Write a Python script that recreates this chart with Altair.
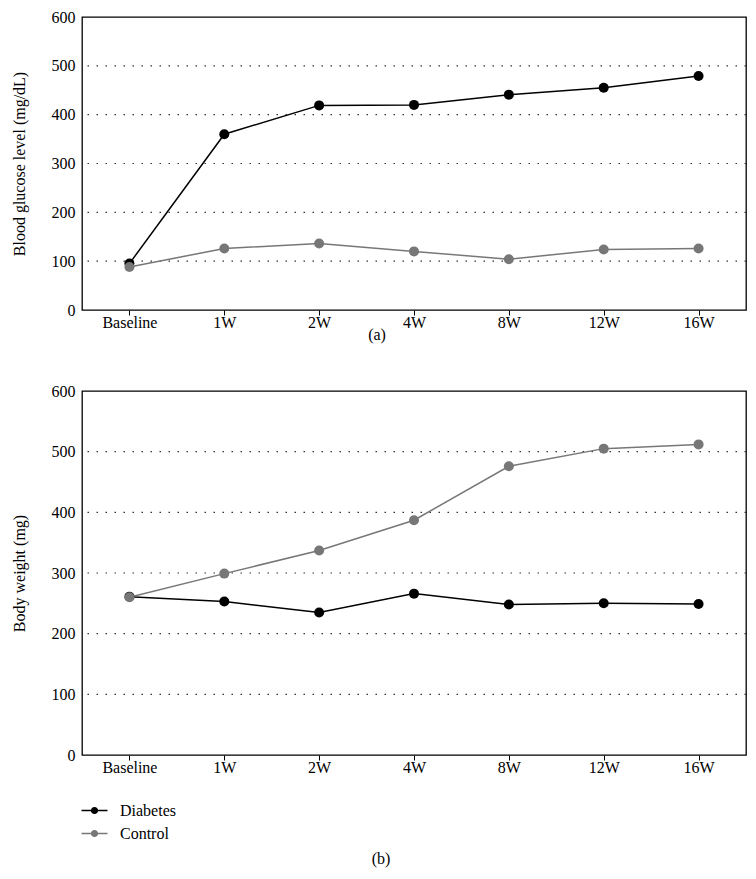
import altair as alt
import pandas as pd

weeks = ["Baseline", "1W", "2W", "4W", "8W", "12W", "16W"]
groups = ["Diabetes", "Control"]
glucose_diabetes = [95, 360, 419, 420, 441, 455, 479]
glucose_control = [88, 126, 136, 120, 104, 124, 126]
weight_diabetes = [261, 253, 235, 266, 248, 250, 249]
weight_control = [260, 299, 337, 387, 476, 505, 512]
y_ticks = [0, 100, 200, 300, 400, 500, 600]

def long_df(d, c):
    rows = []
    for i, w in enumerate(weeks):
        rows.append({"week": w, "group": "Diabetes", "value": d[i], "order": i})
        rows.append({"week": w, "group": "Control", "value": c[i], "order": i})
    return pd.DataFrame(rows)

df_a = long_df(glucose_diabetes, glucose_control)
df_b = long_df(weight_diabetes, weight_control)

FONT = "Liberation Serif"
FS = 16
color_scale = alt.Scale(domain=groups, range=["#000000", "#777777"])

# line with a dot (dot made of concentric rings so the stroke fills it)
def ring(r):
    return f"M{-r},0A{r},{r},0,1,1,{r},0A{r},{r},0,1,1,{-r},0"
leg_path = "M-1.5,0L1.5,0" + ring(0.33) + ring(0.2) + ring(0.07)


def panel(df, ytitle, caption, w, h, legend, cap_offset, cap_dx):
    x = alt.X("week:N", sort=weeks, title=None,
              scale=alt.Scale(paddingOuter=0.5),
              axis=alt.Axis(labelAngle=0, domain=False, ticks=True, tickSize=5,
                            tickColor="black", grid=False, labelFont=FONT,
                            labelFontSize=FS, labelColor="black", labelPadding=-1))
    y = alt.Y("value:Q", title=ytitle,
              scale=alt.Scale(domain=[0, 600], nice=False),
              axis=alt.Axis(values=y_ticks, domain=False, ticks=False, grid=False,
                            labelFont=FONT, labelFontSize=FS, labelColor="black",
                            labelPadding=7, titleFont=FONT, titleFontSize=FS,
                            titleFontWeight="normal", titleColor="black",
                            titlePadding=24))
    if legend:
        leg = alt.Legend(title=None, orient="none", legendX=3, legendY=h + 46,
                         symbolType=leg_path, symbolSize=300, symbolStrokeWidth=1.5,
                         labelFont=FONT, labelFontSize=FS, labelColor="black",
                         labelOffset=16)
    else:
        leg = None
    color = alt.Color("group:N", scale=color_scale, sort=groups, legend=leg)

    grid = alt.Chart(pd.DataFrame({"g": [100, 200, 300, 400, 500]})).mark_rule(
        color="#333333", strokeDash=[1.5, 7.5], strokeWidth=1.2
    ).encode(y=alt.Y("g:Q", scale=alt.Scale(domain=[0, 600], nice=False)))

    line = alt.Chart(df).mark_line(strokeWidth=1.5).encode(
        x=x, y=y, color=color, detail="group:N", order="order:Q")
    pts = alt.Chart(df).mark_point(filled=True, size=100, opacity=1).encode(
        x=x, y=y, color=alt.Color("group:N", scale=color_scale, sort=groups, legend=None))
    return alt.layer(grid, line, pts).properties(
        width=w, height=h,
        title=alt.TitleParams(caption, orient="bottom", font=FONT, fontSize=FS,
                              fontWeight="normal", color="black", anchor="middle",
                              dx=cap_dx, offset=cap_offset))


a = panel(df_a, "Blood glucose level (mg/dL)", "(a)", 664, 293, False, -3, -37)
b = panel(df_b, "Body weight (mg)", "(b)", 664, 364, True, 9, -33)

chart = alt.vconcat(a, b, spacing=38).resolve_scale(color="independent").properties(
    padding={"left": 2, "top": 0, "right": 0, "bottom": 0}
).configure_view(stroke="black", strokeWidth=1.3).configure_legend(rowPadding=5)

chart.save("out.html", embed_options={"renderer": "svg", "actions": False})
